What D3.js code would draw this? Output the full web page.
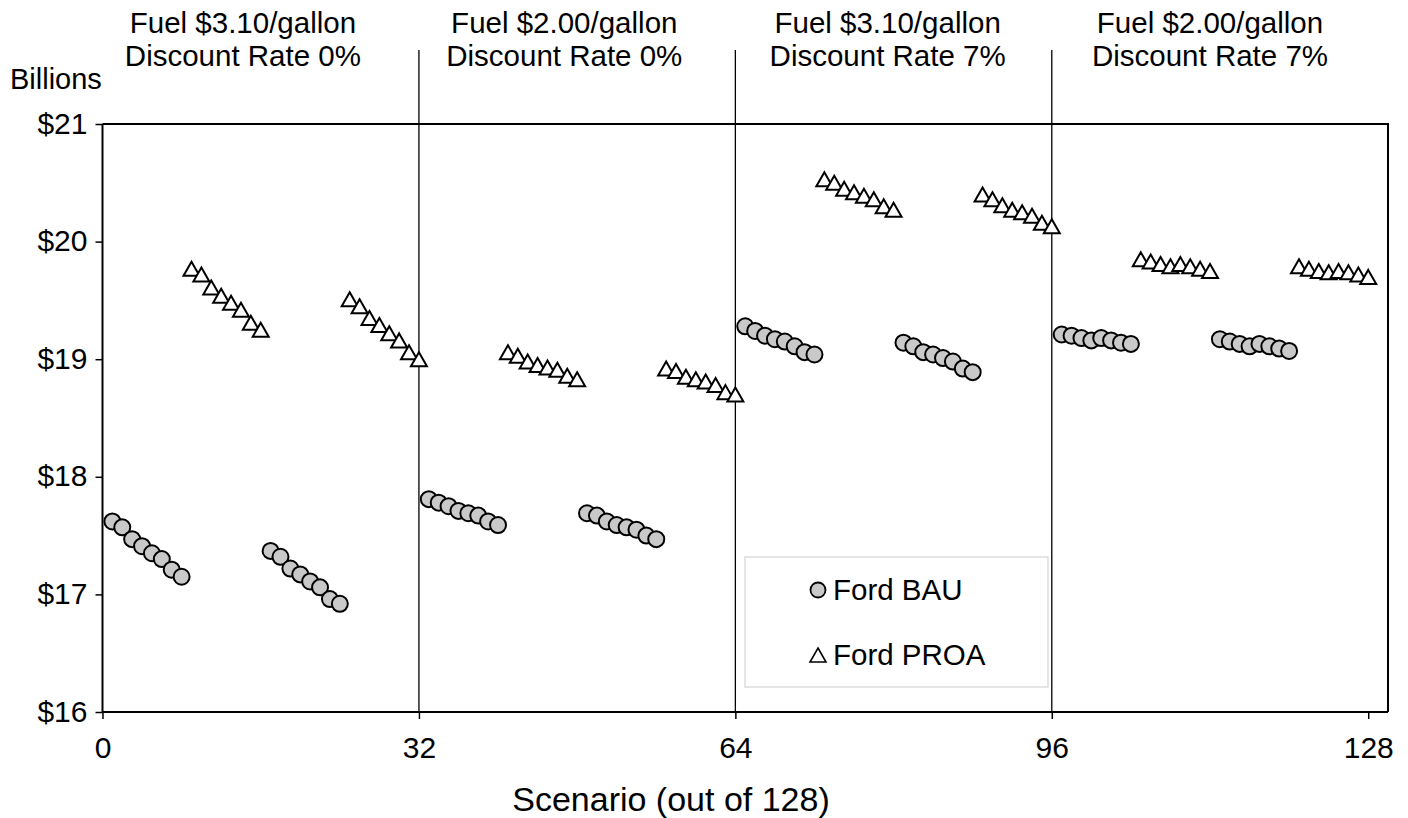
<!DOCTYPE html>
<html>
<head>
<meta charset="utf-8">
<script src="https://cdn.jsdelivr.net/npm/d3@7"></script>
<style>
    body { margin: 0; background: #fff; }
    text { font-family: "Liberation Sans", Arial, Helvetica, sans-serif; fill: #000; }
</style>
</head>
<body>
<div class="graph"></div>
<script>
// Scenario blocks: each block is 8 consecutive scenarios, first scenario listed here
const bauStarts = [1, 17, 33, 49, 65, 81, 97, 113];
const proaStarts = [9, 25, 41, 57, 73, 89, 105, 121];

// Ford BAU values (billions), one row per block
const bauValues = [
    [17.62, 17.57, 17.47, 17.41, 17.35, 17.30, 17.21, 17.15],
    [17.37, 17.32, 17.22, 17.17, 17.11, 17.06, 16.96, 16.92],
    [17.81, 17.78, 17.75, 17.71, 17.69, 17.67, 17.62, 17.59],
    [17.69, 17.67, 17.62, 17.59, 17.57, 17.55, 17.50, 17.47],
    [19.28, 19.24, 19.20, 19.17, 19.15, 19.11, 19.06, 19.04],
    [19.14, 19.11, 19.06, 19.04, 19.01, 18.98, 18.92, 18.89],
    [19.21, 19.20, 19.18, 19.16, 19.18, 19.16, 19.14, 19.13],
    [19.17, 19.15, 19.13, 19.11, 19.13, 19.11, 19.09, 19.07]
];

// Ford PROA values (billions)
const proaValues = [
    [19.77, 19.72, 19.61, 19.54, 19.48, 19.42, 19.31, 19.25],
    [19.51, 19.45, 19.35, 19.29, 19.22, 19.16, 19.06, 19.00],
    [19.06, 19.03, 18.98, 18.95, 18.93, 18.91, 18.86, 18.83],
    [18.92, 18.90, 18.85, 18.83, 18.81, 18.78, 18.72, 18.70],
    [20.53, 20.50, 20.45, 20.42, 20.39, 20.36, 20.30, 20.27],
    [20.40, 20.36, 20.31, 20.27, 20.25, 20.22, 20.16, 20.13],
    [19.85, 19.83, 19.81, 19.79, 19.81, 19.79, 19.77, 19.75],
    [19.79, 19.77, 19.75, 19.74, 19.75, 19.74, 19.72, 19.70]
];

const xTicks = [0, 32, 64, 96, 128];
const yTicks = [16, 17, 18, 19, 20, 21];
const separators = [32, 64, 96];
const panelFuel = ["Fuel $3.10/gallon", "Fuel $2.00/gallon", "Fuel $3.10/gallon", "Fuel $2.00/gallon"];
const panelRate = ["Discount Rate 0%", "Discount Rate 0%", "Discount Rate 7%", "Discount Rate 7%"];
const seriesNames = ["Ford BAU", "Ford PROA"];

// flatten blocks into {scenario, value} points
function toPoints(starts, values) {
    const pts = [];
    starts.forEach((s, i) => {
        values[i].forEach((v, j) => pts.push({ scenario: s + j, value: v }));
    });
    return pts;
}
const bauData = toPoints(bauStarts, bauValues);
const proaData = toPoints(proaStarts, proaValues);

const width = 1408, height = 818;
const plot = { left: 102.5, right: 1388, top: 124, bottom: 712 };
// where the header text sits, in scenario units
const headerAt = [14.2, 46.7, 79.4, 112.0];

const svg = d3.select(".graph")
    .append("svg")
        .attr("width", width)
        .attr("height", height);

const xScale = d3.scaleLinear()
    .domain([0, 130])
    .range([plot.left, plot.right]);

const yScale = d3.scaleLinear()
    .domain([16, 21])
    .range([plot.bottom, plot.top]);

// frame (top and right lines)
svg.append("path")
    .attr("d", `M${plot.left},${plot.top}H${plot.right}V${plot.bottom}`)
    .attr("fill", "none")
    .attr("stroke", "#000")
    .attr("stroke-width", 2);

// panel separators, reaching up into the header area
svg.append("g")
    .selectAll("line")
    .data(separators)
    .join("line")
        .attr("x1", d => xScale(d))
        .attr("x2", d => xScale(d))
        .attr("y1", 50)
        .attr("y2", plot.bottom)
        .attr("stroke", "#000")
        .attr("stroke-width", 1.3);

// axes
const yAxis = svg.append("g")
    .attr("transform", `translate(${plot.left},0)`)
    .call(d3.axisLeft(yScale).tickValues(yTicks).tickSize(7).tickPadding(8).tickFormat(d => "$" + d));

const xAxis = svg.append("g")
    .attr("transform", `translate(0,${plot.bottom})`)
    .call(d3.axisBottom(xScale).tickValues(xTicks).tickSize(7).tickPadding(18));

[yAxis, xAxis].forEach(a => {
    a.select(".domain").attr("stroke", "#000").attr("stroke-width", 2);
    a.selectAll(".tick line").attr("stroke", "#000").attr("stroke-width", 1.5);
    a.selectAll(".tick text")
        .style("font-family", '"Liberation Sans", Arial, sans-serif')
        .style("font-size", "30px")
        .attr("fill", "#000");
});
yAxis.select(".domain").attr("d", `M0,${plot.top}V${plot.bottom}`);
xAxis.select(".domain").attr("d", `M${plot.left},0H${plot.right}`);
yAxis.selectAll(".tick text").attr("dy", "0.3em");

// header labels over each panel
const headers = svg.append("g")
    .selectAll("text")
    .data(panelFuel)
    .join("text")
        .attr("text-anchor", "middle")
        .style("font-size", "29.5px");
headers.append("tspan")
    .attr("x", (d, i) => xScale(headerAt[i]))
    .attr("y", 33)
    .text(d => d);
headers.append("tspan")
    .attr("x", (d, i) => xScale(headerAt[i]))
    .attr("y", 66)
    .text((d, i) => panelRate[i]);

svg.append("text")
    .attr("x", 10)
    .attr("y", 89)
    .style("font-size", "29px")
    .text("Billions");

svg.append("text")
    .attr("x", 671)
    .attr("y", 811)
    .attr("text-anchor", "middle")
    .style("font-size", "34px")
    .text("Scenario (out of 128)");

// markers
const triPath = "M0,-7L8,7L-8,7Z";

svg.append("g")
    .selectAll("circle")
    .data(bauData)
    .join("circle")
        .attr("cx", d => xScale(d.scenario))
        .attr("cy", d => yScale(d.value))
        .attr("r", 8)
        .attr("fill", "#c9c9c9")
        .attr("stroke", "#000")
        .attr("stroke-width", 2);

svg.append("g")
    .selectAll("path")
    .data(proaData)
    .join("path")
        .attr("d", triPath)
        .attr("transform", d => `translate(${xScale(d.scenario)},${yScale(d.value)})`)
        .attr("fill", "#fff")
        .attr("stroke", "#000")
        .attr("stroke-width", 2);

// legend
const legend = svg.append("g");
legend.append("rect")
    .attr("x", 745).attr("y", 557)
    .attr("width", 303).attr("height", 130)
    .attr("fill", "#fff")
    .attr("stroke", "#d4d4d4")
    .attr("stroke-width", 1.2);

legend.append("circle")
    .attr("cx", 818).attr("cy", 590).attr("r", 7.5)
    .attr("fill", "#c9c9c9").attr("stroke", "#000").attr("stroke-width", 1.8);
legend.append("path")
    .attr("d", "M0,-7L8,7L-8,7Z")
    .attr("transform", "translate(818,655)")
    .attr("fill", "#fff").attr("stroke", "#000").attr("stroke-width", 1.6);

legend.selectAll("text.lg")
    .data(seriesNames)
    .join("text")
        .attr("class", "lg")
        .attr("x", 833)
        .attr("y", (d, i) => 600 + i * 65)
        .style("font-size", "29.5px")
        .text(d => d);
</script>
</body>
</html>
